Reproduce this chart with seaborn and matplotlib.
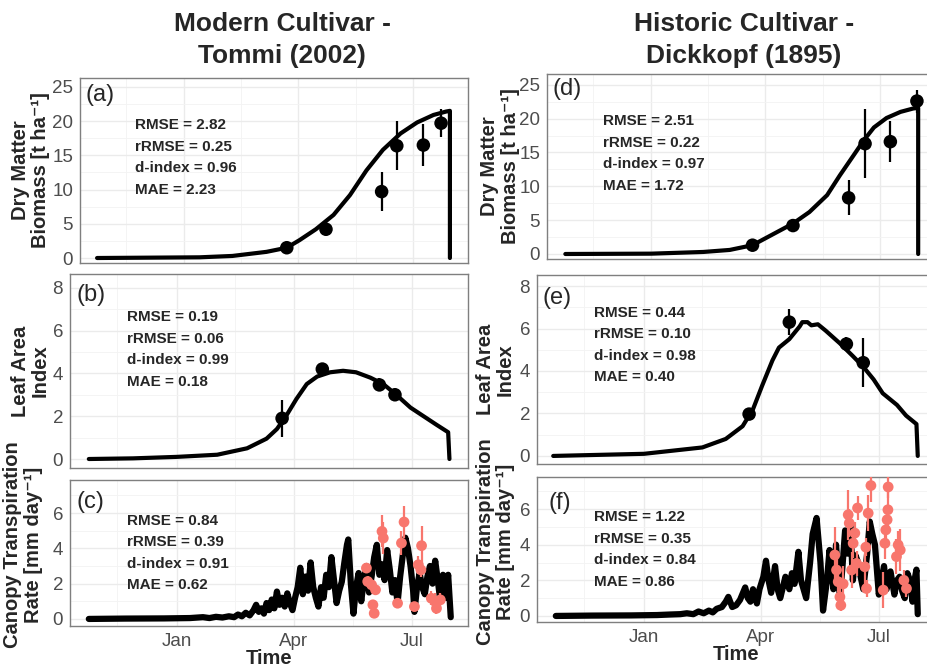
"""Crop model simulations vs. observations for two wheat cultivars"""
import pandas as pd
import matplotlib
matplotlib.use("Agg")
import matplotlib.pyplot as plt
import matplotlib.dates as mdates
import seaborn as sns

W, H = 928, 666
BASE = pd.Timestamp("2002-01-01")
RED = "#F8766D"

# ---- data (days counted from 1 January) ----
# Modern cultivar - Tommi
bio_sim_day_t = [-69, 12, 38, 65, 81, 91, 104, 118, 131, 144, 157, 171, 184, 197, 207, 210, 210]
bio_sim_t = [0, 0.1, 0.3, 0.9, 1.5, 2.6, 4.2, 6.3, 9.2, 12.8, 15.8, 18.2, 19.8, 20.9, 21.4, 21.5, 0]
bio_obs_day_t = [81, 112, 156, 168, 189, 203]
bio_obs_t = [1.5, 4.2, 9.7, 16.4, 16.5, 19.7]
bio_sd_t = [0.3, 0.4, 2.9, 3.6, 3.1, 2.0]

lai_sim_day_t = [-68, -34, 0, 31, 54, 69, 77, 84, 92, 100, 108, 118, 128, 138, 149, 159,
                 169, 180, 190, 200, 209, 210]
lai_sim_t = [0, 0.03, 0.1, 0.2, 0.5, 0.95, 1.4, 2.0, 2.8, 3.5, 3.85, 4.05, 4.12, 4.05, 3.8, 3.5,
             3.0, 2.4, 2.0, 1.6, 1.25, 0]
lai_obs_day_t = [81, 112, 156, 168]
lai_obs_t = [1.9, 4.2, 3.46, 3.0]
lai_sd_t = [0.85, 0.3, 0.3, 0.3]

tr_sim_day_t = [-68, -40, -10, 10, 20, 25, 30, 35, 40, 44, 47, 50, 53, 56, 59, 61, 63, 65, 67, 69,
                71, 73, 75, 77, 79, 81, 83, 85, 87, 89, 91, 93, 95, 97, 99, 101, 103, 105, 107, 109,
                111, 113, 115, 117, 119, 121, 123, 125, 127, 129, 131, 132, 134, 136, 138, 140, 142,
                144, 146, 148, 150, 152, 154, 156, 158, 160, 162, 164, 166, 168, 170, 172, 174, 176,
                178, 180, 182, 183, 185, 187, 189, 191, 193, 195, 197, 199, 201, 203, 205, 207, 209, 211]
tr_sim_t = [0.0, 0.02, 0.03, 0.05, 0.1, 0.05, 0.12, 0.08, 0.15, 0.1, 0.25, 0.15, 0.35, 0.2, 0.5, 0.8,
            0.4, 0.6, 0.3, 0.9, 0.5, 1.1, 0.6, 1.55, 0.8, 1.2, 0.7, 1.45, 0.9, 0.5, 1.2, 1.8, 2.9, 1.4,
            2.4, 1.6, 3.2, 1.8, 1.2, 0.7, 1.8, 1.2, 2.5, 1.8, 3.5, 2.2, 0.9, 1.6, 2.1, 3.2, 4.2, 4.5,
            2.0, 0.3, 1.8, 2.6, 1.0, 2.2, 3.0, 1.5, 2.4, 3.5, 4.2, 2.5, 3.1, 2.2, 3.9, 2.8, 1.5, 2.2,
            0.9, 2.4, 3.6, 4.6, 4.0, 3.0, 1.6, 0.4, 1.8, 2.6, 1.8, 1.4, 2.4, 3.0, 2.0, 3.3, 2.2, 1.0,
            2.5, 1.2, 2.5, 0.1]
tr_obs_day_t = [146, 147, 150, 153, 151, 152, 158, 159, 170, 173, 175, 183, 186, 188, 188.5,
                196, 199, 200, 203]
tr_obs_t = [2.88, 2.12, 1.93, 1.65, 0.8, 0.32, 4.96, 4.58, 0.89, 4.3, 5.49, 0.7, 3.07, 2.78, 4.15,
            1.17, 0.98, 0.6, 1.08]
tr_sd_t = [0.3, 0.3, 0.2, 0.3, 0.3, 0.2, 0.9, 0.9, 0.2, 0.7, 0.9, 0.2, 0.5, 0.4, 1.1,
           0.4, 0.5, 0.3, 0.4]

# Historic cultivar - Dickkopf
bio_sim_day_d = [-68, 0, 41, 62, 80, 91, 102, 112, 125, 139, 149, 160, 168, 176, 186, 197, 207,
                 211, 211]
bio_sim_d = [0, 0.05, 0.3, 0.6, 1.3, 2.4, 3.5, 4.5, 6.2, 8.7, 11.6, 14.6, 16.8, 18.7, 20.1, 21.0,
             21.5, 21.6, 0]
bio_obs_day_d = [80, 112, 156, 169, 189, 210]
bio_obs_d = [1.3, 4.2, 8.3, 16.3, 16.6, 22.6]
bio_sd_d = [0.3, 0.4, 2.6, 5.1, 3.0, 1.7]

lai_sim_day_d = [-70, 0, 45, 63, 76, 84, 91, 99, 104, 112, 120, 122, 126, 129, 134, 140, 151, 161,
                 169, 177, 184, 195, 202, 210, 211]
lai_sim_d = [0, 0.1, 0.4, 0.8, 1.4, 2.2, 3.3, 4.5, 5.1, 5.5, 6.1, 6.3, 6.3, 6.15, 6.2, 5.9, 5.3,
             4.7, 4.2, 3.6, 2.95, 2.4, 1.9, 1.5, 0]
lai_obs_day_d = [81, 112, 156, 169]
lai_obs_d = [1.97, 6.3, 5.27, 4.39]
lai_sd_d = [0.25, 0.6, 0.35, 1.15]

tr_sim_day_d = [-68, -40, -10, 10, 20, 28, 33, 38, 42, 46, 50, 53, 56, 60, 63, 65, 68, 71, 74, 78,
                80, 82, 84, 87, 89, 92, 94, 96, 98, 101, 103, 105, 107, 109, 112, 114, 116, 119, 121,
                123, 125, 128, 130, 133, 136, 138, 141, 143, 146, 148, 151, 153, 155, 157, 159, 161,
                163, 165, 167, 169, 172, 174, 176, 178, 181, 183, 185, 187, 190, 193, 195, 197, 199,
                201, 203, 205, 207, 209, 210, 211]
tr_sim_d = [0.0, 0.02, 0.03, 0.05, 0.08, 0.1, 0.15, 0.1, 0.25, 0.15, 0.3, 0.2, 0.4, 0.5, 0.8, 1.07,
            0.5, 0.6, 0.9, 1.6, 1.0, 0.8, 1.5, 0.7, 1.5, 2.2, 3.1, 2.0, 1.3, 2.8, 1.5, 1.0, 1.6, 2.2,
            1.5, 2.4, 1.8, 3.6, 2.0, 1.5, 1.0, 3.0, 4.6, 5.5, 3.0, 0.3, 2.0, 3.7, 1.5, 4.0, 1.0, 2.8,
            4.8, 3.5, 5.2, 2.0, 3.4, 3.0, 2.2, 1.5, 3.5, 5.3, 4.6, 4.0, 1.2, 2.0, 2.8, 1.5, 2.5, 1.2,
            2.0, 2.2, 1.4, 1.0, 2.4, 2.0, 0.8, 2.2, 2.6, 0.1]
tr_obs_day_d = [147.1, 148.4, 149.7, 151.0, 151.7, 153.5, 157.4, 158.2, 160.0, 161.2, 162.5, 163.8,
                164.6, 170.2, 171.0, 171.5, 172.8, 174.9, 184.4, 185.7, 186.4, 187.4, 188.0, 188.2,
                194.6, 195.9, 197.5, 200.3, 202.3]
tr_obs_d = [3.42, 2.58, 1.92, 1.07, 0.60, 1.8, 5.68, 5.21, 2.58, 4.08, 4.65, 2.95, 6.06, 2.76, 3.86,
            1.54, 5.77, 7.32, 1.45, 4.08, 4.83, 5.40, 5.96, 7.24, 3.33, 3.99, 3.7, 2.0, 1.54]
tr_sd_d = [1.6, 0.8, 0.6, 0.6, 0.3, 1.0, 1.4, 0.8, 1.0, 0.8, 0.6, 0.7, 0.7, 1.2, 0.5, 0.5, 1.0, 0.9,
           1.0, 0.9, 0.8, 0.7, 1.2, 0.6, 1.0, 0.8, 1.2, 0.6, 0.5]

stats = {
    "a": ["2.82", "0.25", "0.96", "2.23"],
    "b": ["0.19", "0.06", "0.99", "0.18"],
    "c": ["0.84", "0.39", "0.91", "0.62"],
    "d": ["2.51", "0.22", "0.97", "1.72"],
    "e": ["0.44", "0.10", "0.98", "0.40"],
    "f": ["1.22", "0.35", "0.84", "0.86"],
}
stat_names = ["RMSE", "rRMSE", "d-index", "MAE"]


def to_date(days):
    return BASE + pd.to_timedelta(days, unit="D")


def px_axes(fig, x0, y0, x1, y1):
    """axes from pixel box (top-left origin)"""
    return fig.add_axes([x0 / W, 1 - y1 / H, (x1 - x0) / W, (y1 - y0) / H])


def draw(ax, sim_day, sim_val, obs_day, obs_val, obs_sd, color, lw, size):
    sns.lineplot(x=to_date(sim_day), y=sim_val, ax=ax, color="black", linewidth=lw,
                 estimator=None, sort=False, zorder=2)
    ax.errorbar(to_date(obs_day), obs_val, yerr=obs_sd, fmt="none", ecolor=color,
                elinewidth=1.6, capsize=0, zorder=3)
    sns.scatterplot(x=to_date(obs_day), y=obs_val, ax=ax, color=color, s=size,
                    edgecolor="none", zorder=4)


def style(ax, ylim, yticks, yminor, ylabel, lab_x, lab_y, tag, tag_xy, stat_key, stat_xy,
          show_x=False):
    ax.set_yticks(yticks)
    ax.set_yticks(yminor, minor=True)
    major = pd.to_datetime(["2001-10-01", "2002-01-01", "2002-04-01", "2002-07-01", "2002-10-01"])
    ax.set_xticks(major)
    mids = major[:-1] + (major[1:] - major[:-1]) / 2
    ax.set_xticks(mids, minor=True)
    ax.xaxis.set_major_formatter(mdates.DateFormatter("%b"))
    # limits after ticks so the tick list does not widen the view
    ax.set_xlim(to_date(-82.5), to_date(224.3))
    ax.set_ylim(*ylim)
    ax.grid(which="major", color="#EBEBEB", linewidth=1.0)
    ax.grid(which="minor", color="#F3F3F3", linewidth=0.6)
    ax.set_axisbelow(True)
    for sp in ax.spines.values():
        sp.set_color("#7F7F7F")
        sp.set_linewidth(1.0)
    ax.tick_params(which="major", length=3, width=0.8, color="#333333", labelsize=13.5,
                   labelcolor="#4D4D4D", pad=2)
    ax.tick_params(which="minor", length=0)
    ax.tick_params(axis="x", labelbottom=show_x)
    ax.set_ylabel(ylabel, fontsize=14.5, fontweight="bold", linespacing=1.1)
    ax.yaxis.set_label_coords(lab_x, lab_y)
    if show_x:
        ax.set_xlabel("Time", fontsize=14.5, fontweight="bold", labelpad=-1)
    else:
        ax.set_xlabel("")
    ax.text(tag_xy[0], tag_xy[1], f"({tag})", transform=ax.transAxes, fontsize=17,
            ha="left", va="center")
    for i, (name, val) in enumerate(zip(stat_names, stats[stat_key])):
        ax.annotate(f"{name} = {val}", xy=stat_xy, xycoords="axes fraction",
                    xytext=(0, -i * 15.5), textcoords="offset points",
                    fontsize=11, fontweight="bold", ha="left", va="center")


sns.set_theme(style="whitegrid")
plt.rcParams["font.family"] = ["Liberation Sans", "DejaVu Sans"]

fig = plt.figure(figsize=(W / 100, H / 100), dpi=100)

bio_label = "Dry Matter\nBiomass [t ha⁻¹]"
lai_label = "Leaf Area\nIndex"
tr_label = "Canopy Transpiration\nRate [mm day⁻¹]"

ax_a = px_axes(fig, 80, 78, 468, 263)
draw(ax_a, bio_sim_day_t, bio_sim_t, bio_obs_day_t, bio_obs_t, bio_sd_t, "black", 3.0, 95)
style(ax_a, (-0.73, 26.3), [0, 5, 10, 15, 20, 25], [2.5, 7.5, 12.5, 17.5, 22.5],
      bio_label, -0.077, 0.5, "a", (0.013, 0.91), "a", (0.142, 0.746))

ax_b = px_axes(fig, 70, 274, 468, 468)
draw(ax_b, lai_sim_day_t, lai_sim_t, lai_obs_day_t, lai_obs_t, lai_sd_t, "black", 3.0, 95)
style(ax_b, (-0.42, 8.64), [0, 2, 4, 6, 8], [1, 3, 5, 7],
      lai_label, -0.05, 0.5, "b", (0.017, 0.89), "b", (0.143, 0.778))

ax_c = px_axes(fig, 70, 480, 468, 626)
draw(ax_c, tr_sim_day_t, tr_sim_t, tr_obs_day_t, tr_obs_t, tr_sd_t, RED, 4.5, 60)
style(ax_c, (-0.4, 7.87), [0, 2, 4, 6], [1, 3, 5, 7],
      tr_label, -0.068, 0.555, "c", (0.017, 0.85), "c", (0.143, 0.72), show_x=True)

ax_d = px_axes(fig, 547, 74, 935, 259)
draw(ax_d, bio_sim_day_d, bio_sim_d, bio_obs_day_d, bio_obs_d, bio_sd_d, "black", 3.0, 95)
style(ax_d, (-0.74, 26.6), [0, 5, 10, 15, 20, 25], [2.5, 7.5, 12.5, 17.5, 22.5],
      bio_label, -0.07, 0.5, "d", (0.015, 0.92), "d", (0.144, 0.746))

ax_e = px_axes(fig, 537, 275, 935, 464)
draw(ax_e, lai_sim_day_d, lai_sim_d, lai_obs_day_d, lai_obs_d, lai_sd_d, "black", 3.0, 95)
style(ax_e, (-0.38, 8.52), [0, 2, 4, 6, 8], [1, 3, 5, 7],
      lai_label, -0.055, 0.5, "e", (0.013, 0.88), "e", (0.143, 0.80))

ax_f = px_axes(fig, 537, 477, 935, 622)
draw(ax_f, tr_sim_day_d, tr_sim_d, tr_obs_day_d, tr_obs_d, tr_sd_d, RED, 4.5, 60)
style(ax_f, (-0.34, 7.8), [0, 2, 4, 6], [1, 3, 5, 7],
      tr_label, -0.055, 0.555, "f", (0.028, 0.82), "f", (0.143, 0.724), show_x=True)

fig.text(282 / W, 1 - 24 / H, "Modern Cultivar -", ha="center", va="center",
         fontsize=19, fontweight="bold")
fig.text(282 / W, 1 - 56 / H, "Tommi (2002)", ha="center", va="center",
         fontsize=19, fontweight="bold")
fig.text(744 / W, 1 - 24 / H, "Historic Cultivar -", ha="center", va="center",
         fontsize=19, fontweight="bold")
fig.text(744 / W, 1 - 56 / H, "Dickkopf (1895)", ha="center", va="center",
         fontsize=19, fontweight="bold")

fig.savefig("out.png", dpi=100)
plt.close(fig)
